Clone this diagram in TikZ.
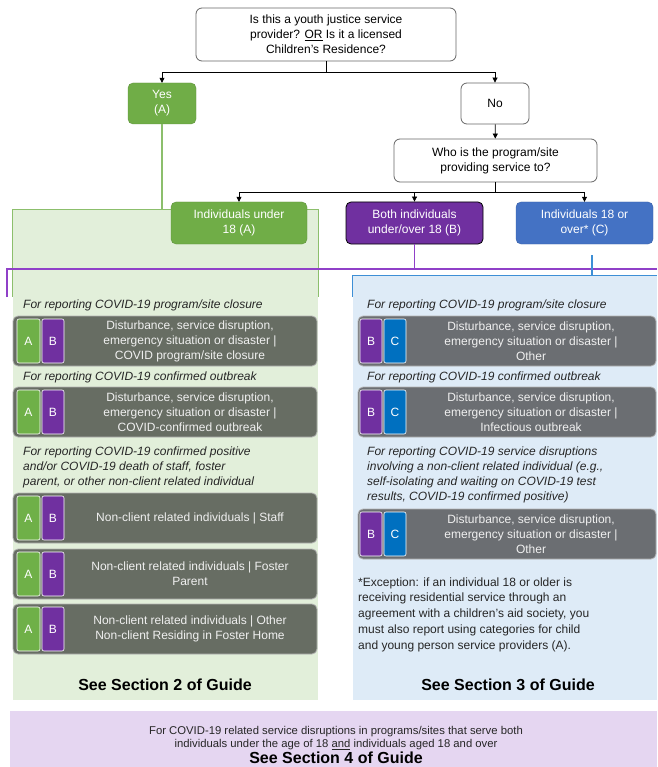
\documentclass[tikz,border=0pt]{standalone}
\usepackage{fontspec}
\setmainfont{Liberation Sans}
\usetikzlibrary{arrows.meta}

\definecolor{yesgreen}{HTML}{70AD47}
\definecolor{tabgreen}{HTML}{6FB048}
\definecolor{bothpurple}{HTML}{7030A0}
\definecolor{overblue}{HTML}{4472C4}
\definecolor{tabblue}{HTML}{0070C0}
\definecolor{cardgrayA}{HTML}{676D63}
\definecolor{cardgrayC}{HTML}{6B6E72}
\definecolor{regiongreen}{HTML}{E2EFDA}
\definecolor{regionblue}{HTML}{DEEBF7}
\definecolor{regionpurple}{HTML}{E5D6F1}
\definecolor{linegreen}{HTML}{8CBF6C}
\definecolor{linepurple}{HTML}{9040C8}
\definecolor{lineblue}{HTML}{3D8FD6}

\begin{document}
\begin{tikzpicture}[x=1pt, y=-1pt,
    every node/.style={font=\fontsize{12}{15}\selectfont},
    question/.style={draw=gray!80!black, line width=0.8pt, rounded corners=6pt, fill=white, align=center, inner sep=0pt},
    answer/.style={rounded corners=5pt, text=white, align=center, inner sep=0pt, minimum height=42pt, minimum width=137pt},
    link/.style={-{Triangle[length=5pt,width=5pt]}, line width=0.7pt},
    region/.style={inner sep=0pt},
    gline/.style={draw=linegreen, line width=1.2pt},
    pline/.style={draw=linepurple, line width=1.2pt},
    bline/.style={draw=lineblue, line width=1.2pt},
    label/.style={font=\itshape\fontsize{12}{15}\selectfont, text=black!85, align=left, anchor=west, inner sep=0pt},
    note/.style={text=black!85, align=left, anchor=west, inner sep=0pt},
    cardA/.style={rounded corners=5pt, fill=cardgrayA, draw=gray!60, line width=0.8pt, minimum width=304pt, minimum height=50pt, inner sep=0pt},
    cardC/.style={rounded corners=5pt, fill=cardgrayC, draw=gray!60, line width=0.8pt, minimum width=298pt, minimum height=50pt, inner sep=0pt},
    tab/.style={draw=white, line width=0.6pt, rounded corners=2pt, text=white, minimum width=22pt, minimum height=44pt, inner sep=0pt},
    cardtext/.style={text=gray!12, align=center, inner sep=0pt},
    guide/.style={font=\bfseries\fontsize{16}{18}\selectfont, inner sep=0pt},
    small/.style={font=\fontsize{11.3}{13}\selectfont, text=black!85, inner sep=0pt}
  ]
  % page
  \fill[white] (0,0) rectangle (657,767);

  % shaded sections
  \node[region, fill=regiongreen, minimum width=305pt, minimum height=490pt] (regA) at (165.5,455) {};
  \node[region, fill=regionblue, minimum width=304pt, minimum height=424pt] (regC) at (505,488) {};
  \node[region, fill=regionpurple, minimum width=647pt, minimum height=56pt] (sec4) at (333.5,739) {};
  \node[small] (s4a) at (336,732) {For COVID-19 related service disruptions in programs/sites that serve both};
  \node[small] (s4b) at (336,745) {individuals under the age of 18 \underline{and} individuals aged 18 and over};
  \node[guide] (s4c) at (336,758) {See Section 4 of Guide};

  \draw[gline] (regA.north west) ++(0,87) -- (regA.north west) -- (regA.north east) -- ++(0,87);
  \draw[bline] (regC.north west) ++(0,21) -- (regC.north west) -- (regC.north east);

  % questions and answers
  \node[question, minimum width=260pt, minimum height=53pt] (q1) at (326,34.5)
    {Is this a youth justice service\\provider? \underline{OR} Is it a licensed\\Children's Residence?};
  \node[answer, fill=yesgreen, draw=yesgreen!85!black, minimum width=68pt, minimum height=41pt] (yes) at (162,103.5) {Yes\\(A)};
  \node[question, minimum width=68pt, minimum height=41pt] (no) at (495,103.5) {No};
  \node[question, minimum width=203pt, minimum height=43pt] (who) at (495.5,160.5)
    {Who is the program/site\\providing service to?};
  \node[answer, fill=yesgreen, draw=yesgreen!85!black, minimum width=136pt] (grpA) at (239,223) {Individuals under\\18 (A)};
  \node[answer, fill=bothpurple, draw=black, line width=0.8pt] (grpB) at (414.5,223) {Both individuals\\under/over 18 (B)};
  \node[answer, fill=overblue, draw=overblue!85!black] (grpC) at (584.5,223) {Individuals 18 or\\over* (C)};

  \draw[link] (q1.south) -- ++(0,11) -| (yes.north);
  \draw[link] (q1.south) -- ++(0,11) -| (no.north);
  \draw[link] (no) -- (who);
  \draw[link] (who.south) -- ++(0,10) -| (grpA.north);
  \draw[link] (who.south) -- ++(0,10) -| (grpB.north);
  \draw[link] (who.south) -- ++(0,10) -| (grpC.north);

  % section links
  \coordinate (pl) at (7,269);
  \coordinate (plL) at (7,297);
  \coordinate (plR) at (657,269);
  \coordinate (cdrop) at (592,255);
  \draw[gline] (yes.south) -- (yes.south |- regA.north);
  \draw[pline] (plL) -- (pl) -- (plR);
  \draw[pline] (grpB.south) -- (grpB.south |- pl);
  \draw[bline] (cdrop) -- (cdrop |- regC.north);

  % Section 2 (A and B)
  \node[label] (lA1) at (23,305) {For reporting COVID-19 program/site closure};
  \node[cardA] (cA1) at (165,341) {};
  \node[tab, fill=tabgreen, minimum width=23pt] (tA1) at (28.5,341) {A};
  \node[tab, fill=bothpurple] (tB1) at (53,341) {B};
  \node[cardtext] at (190,341) {Disturbance, service disruption,\\emergency situation or disaster |\\COVID program/site closure};

  \node[label] (lA2) at (23,377) {For reporting COVID-19 confirmed outbreak};
  \node[cardA] (cA2) at (165,412) {};
  \node[tab, fill=tabgreen, minimum width=23pt] (tA2) at (28.5,412) {A};
  \node[tab, fill=bothpurple] (tB2) at (53,412) {B};
  \node[cardtext] at (190,412) {Disturbance, service disruption,\\emergency situation or disaster |\\COVID-confirmed outbreak};

  \node[label] (lA3) at (23,467) {For reporting COVID-19 confirmed positive\\and/or COVID-19 death of staff, foster\\parent, or other non-client related individual};
  \node[cardA] (cA3) at (165,518) {};
  \node[tab, fill=tabgreen, minimum width=23pt] (tA3) at (28.5,518) {A};
  \node[tab, fill=bothpurple] (tB3) at (53,518) {B};
  \node[cardtext] at (190,518) {Non-client related individuals | Staff};

  \node[cardA] (cA4) at (165,574) {};
  \node[tab, fill=tabgreen, minimum width=23pt] (tA4) at (28.5,574) {A};
  \node[tab, fill=bothpurple] (tB4) at (53,574) {B};
  \node[cardtext] at (190,574) {Non-client related individuals | Foster\\Parent};

  \node[cardA] (cA5) at (165,629) {};
  \node[tab, fill=tabgreen, minimum width=23pt] (tA5) at (28.5,629) {A};
  \node[tab, fill=bothpurple] (tB5) at (53,629) {B};
  \node[cardtext] at (190,629) {Non-client related individuals | Other\\Non-client Residing in Foster Home};

  \node[guide] (secA) at (165,685) {See Section 2 of Guide};

  % Section 3 (B and C)
  \node[label] (lC1) at (367,305) {For reporting COVID-19 program/site closure};
  \node[cardC] (cC1) at (507,341) {};
  \node[tab, fill=bothpurple] (tBC1) at (371,341) {B};
  \node[tab, fill=tabblue] (tC1) at (395,341) {C};
  \node[cardtext] at (531,341) {Disturbance, service disruption,\\emergency situation or disaster |\\Other};

  \node[label] (lC2) at (367,377) {For reporting COVID-19 confirmed outbreak};
  \node[cardC] (cC2) at (507,412) {};
  \node[tab, fill=bothpurple] (tBC2) at (371,412) {B};
  \node[tab, fill=tabblue] (tC2) at (395,412) {C};
  \node[cardtext] at (531,412) {Disturbance, service disruption,\\emergency situation or disaster |\\Infectious outbreak};

  \node[label] (lC3) at (367,474.5) {For reporting COVID-19 service disruptions\\involving a non-client related individual (e.g.,\\self-isolating and waiting on COVID-19 test\\results, COVID-19 confirmed positive)};
  \node[cardC] (cC3) at (507,534) {};
  \node[tab, fill=bothpurple] (tBC3) at (371,534) {B};
  \node[tab, fill=tabblue] (tC3) at (395,534) {C};
  \node[cardtext] at (531,534) {Disturbance, service disruption,\\emergency situation or disaster |\\Other};

  \node[note, font=\fontsize{12}{15.7}\selectfont] (exc) at (358,614.5) {*Exception: if an individual 18 or older is\\receiving residential service through an\\agreement with a children's aid society, you\\must also report using categories for child\\and young person service providers (A).};

  \node[guide] (secC) at (508,685) {See Section 3 of Guide};
\end{tikzpicture}
\end{document}
